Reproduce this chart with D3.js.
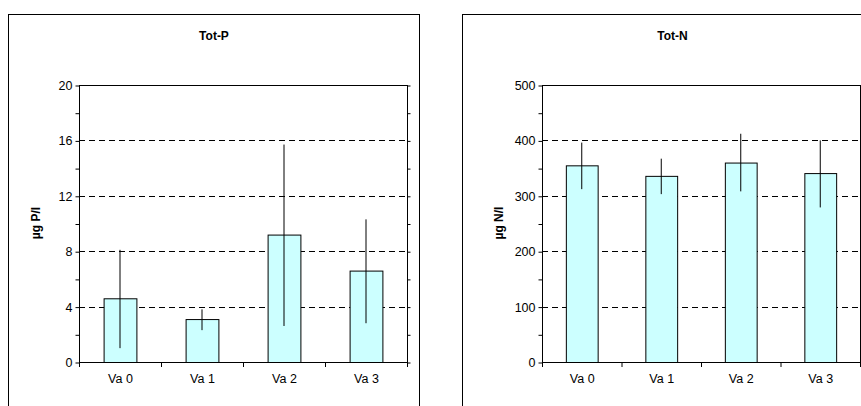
<!DOCTYPE html>
<html>
<head>
<script src="https://cdn.jsdelivr.net/npm/d3@7"></script>
<style>body{margin:0;background:#fff}text{font-family:Arial,"Liberation Sans",sans-serif}</style>
</head>
<body>
<svg id="c" width="861" height="406"></svg>
<script>
var categories = ["Va 0", "Va 1", "Va 2", "Va 3"];
var totP = [4.6, 3.1, 9.2, 6.6];
var totPLow = [1.0, 2.3, 2.6, 2.8];
var totPHigh = [8.1, 3.8, 15.7, 10.3];
var totPTicks = [0, 4, 8, 12, 16, 20];
var totN = [355, 336, 360, 341];
var totNLow = [312, 303, 308, 279];
var totNHigh = [396, 367, 412, 400];
var totNTicks = [0, 100, 200, 300, 400, 500];

var svg = d3.select("#c");

function panel(o) {
    var g = svg.append("g");
    g.append("rect").attr("x", o.fx).attr("y", 14.5).attr("width", o.fw).attr("height", 420)
        .attr("fill", "#fff").attr("stroke", "#000");
    g.append("text").attr("x", o.fx + o.fw / 2).attr("y", 40).attr("text-anchor", "middle")
        .attr("font-size", 12).attr("font-weight", "bold").text(o.title);
    var x = d3.scaleBand().domain(categories).range([o.x0, o.x1]);
    var y = d3.scaleLinear().domain([0, o.ticks[o.ticks.length - 1]]).range([362, 85]);
    var step = o.ticks[1] / 2;
    var minor = d3.range(0, o.ticks[o.ticks.length - 1] + step / 2, step);
    // grid
    g.selectAll(".grid").data(o.ticks.slice(1, -1)).join("line")
        .attr("x1", o.x0).attr("x2", o.x1).attr("y1", d => Math.round(y(d)) + 0.5).attr("y2", d => Math.round(y(d)) + 0.5)
        .attr("stroke", "#000").attr("stroke-dasharray", "6,4");
    // bars
    var bw = x.bandwidth() * 0.4;
    g.selectAll(".bar").data(o.vals).join("rect")
        .attr("x", (d, i) => x(categories[i]) + (x.bandwidth() - bw) / 2 + 0.5)
        .attr("y", d => y(d) + 0.5).attr("width", bw).attr("height", d => y(0) - y(d))
        .attr("fill", "#ccffff").attr("stroke", "#000");
    g.selectAll(".err").data(o.vals).join("line")
        .attr("x1", (d, i) => x(categories[i]) + x.bandwidth() / 2).attr("x2", (d, i) => x(categories[i]) + x.bandwidth() / 2)
        .attr("y1", (d, i) => y(o.low[i])).attr("y2", (d, i) => y(o.high[i]))
        .attr("stroke", "#000");
    // plot border
    g.append("rect").attr("x", o.x0 + 0.5).attr("y", 85.5).attr("width", o.x1 - o.x0).attr("height", 277)
        .attr("fill", "none").attr("stroke", "#000");
    var ya = g.append("g").attr("transform", "translate(" + (o.x0 + 0.5) + ",0.5)")
        .call(d3.axisLeft(y).tickValues(minor).tickSize(4).tickFormat(d => o.ticks.indexOf(d) >= 0 ? d : ""));
    ya.select(".domain").remove();
    ya.selectAll("text").attr("font-size", 12.5).attr("fill", "#000").attr("font-family", "Arial,'Liberation Sans',sans-serif");
    var yr = g.append("g").attr("transform", "translate(" + (o.x1 + 0.5) + ",0.5)")
        .call(d3.axisRight(y).tickValues(minor).tickSize(3).tickFormat(""));
    yr.select(".domain").remove();
    var xa = g.append("g").attr("transform", "translate(0.5,362.5)")
        .call(d3.axisBottom(x).tickSize(0).tickPadding(12));
    xa.select(".domain").remove();
    xa.selectAll("text").attr("font-size", 12.5).attr("fill", "#000").attr("font-family", "Arial,'Liberation Sans',sans-serif");
    g.selectAll(".xt").data(d3.range(categories.length + 1)).join("line")
        .attr("x1", i => o.x0 + 0.5 + i * x.step()).attr("x2", i => o.x0 + 0.5 + i * x.step())
        .attr("y1", 362).attr("y2", 367).attr("stroke", "#000");
    g.append("text").attr("transform", "translate(" + o.lx + ",223) rotate(-90)").attr("text-anchor", "middle")
        .attr("font-size", 12).attr("font-weight", "bold").text(o.label);
}

panel({fx: 8.5, fw: 411, x0: 79, x1: 407, title: "Tot-P", vals: totP, low: totPLow, high: totPHigh, ticks: totPTicks, label: "µg P/l", lx: 40});
panel({fx: 462.5, fw: 420, x0: 542, x1: 860, title: "Tot-N", vals: totN, low: totNLow, high: totNHigh, ticks: totNTicks, label: "µg N/l", lx: 503});
</script>
</body>
</html>
